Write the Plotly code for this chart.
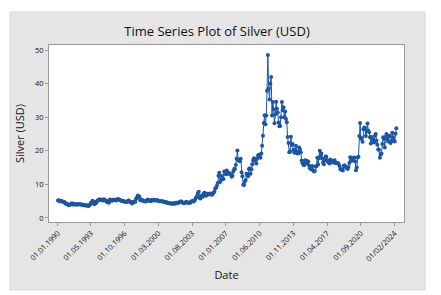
import pandas as pd
import plotly.graph_objects as go

# Monthly silver price (USD), Jan 1990 - Apr 2024
silver_1990s = [
    5.2, 5.3, 5.0, 5.0, 5.1, 4.9, 4.8, 4.8, 4.7, 4.3, 4.2, 4.2,   # 1990
    4.0, 3.8, 3.9, 4.0, 4.1, 4.4, 4.2, 3.9, 4.1, 4.1, 4.1, 3.9,   # 1991
    4.1, 4.1, 4.1, 4.0, 4.0, 4.0, 3.9, 3.8, 3.8, 3.8, 3.7, 3.7,   # 1992
    3.7, 3.6, 3.7, 4.0, 4.5, 4.5, 5.1, 4.9, 4.1, 4.3, 4.4, 4.9,   # 1993
    5.1, 5.3, 5.5, 5.4, 5.5, 5.4, 5.3, 5.2, 5.6, 5.3, 5.2, 4.9,   # 1994
    4.7, 5.0, 4.5, 5.5, 5.3, 5.2, 5.1, 5.4, 5.4, 5.4, 5.3, 5.2,   # 1995
    5.6, 5.6, 5.5, 5.4, 5.3, 5.1, 5.0, 5.1, 5.0, 4.8, 4.8, 4.8,   # 1996
    4.8, 5.1, 5.2, 4.8, 4.8, 4.7, 4.3, 4.5, 4.8, 4.9, 4.8, 5.8,   # 1997
    6.0, 6.7, 6.2, 6.3, 5.3, 5.3, 5.4, 5.1, 5.1, 5.0, 5.0, 4.9,   # 1998
    5.2, 5.5, 5.3, 5.1, 5.1, 5.0, 5.4, 5.3, 5.3, 5.4, 5.2, 5.3,   # 1999
]
silver_2000s = [
    5.2, 5.3, 5.1, 5.0, 5.0, 5.0, 5.0, 4.9, 4.9, 4.8, 4.7, 4.6,   # 2000
    4.7, 4.5, 4.4, 4.4, 4.4, 4.3, 4.2, 4.3, 4.4, 4.3, 4.2, 4.5,   # 2001
    4.5, 4.4, 4.5, 4.6, 4.8, 4.9, 4.9, 4.6, 4.5, 4.4, 4.5, 4.6,   # 2002
    4.8, 4.6, 4.5, 4.5, 4.6, 4.5, 4.9, 5.0, 5.1, 4.9, 5.2, 5.7,   # 2003
    6.2, 6.6, 7.4, 7.8, 6.0, 5.8, 6.5, 6.7, 6.3, 7.2, 7.5, 6.8,   # 2004
    6.6, 7.2, 7.2, 7.0, 7.2, 7.3, 7.0, 6.9, 7.1, 7.6, 7.8, 8.8,   # 2005
    9.0, 9.6, 10.4, 12.6, 13.5, 10.7, 11.3, 12.5, 11.6, 11.6, 13.8, 13.3,  # 2006
    13.0, 14.1, 13.2, 13.4, 13.3, 13.0, 13.0, 12.3, 12.6, 13.8, 14.6, 14.6,  # 2007
    15.8, 17.6, 20.1, 17.1, 17.2, 16.9, 17.6, 13.6, 12.4, 9.9, 9.8, 10.8,  # 2008
    11.3, 13.2, 12.9, 12.4, 14.6, 14.8, 13.2, 14.5, 16.0, 17.1, 17.8, 17.0,  # 2009
]
silver_2010s = [
    17.5, 16.2, 17.6, 18.6, 18.8, 18.5, 17.9, 19.2, 21.5, 24.5, 28.3, 30.6,  # 2010
    27.9, 30.5, 37.9, 48.5, 38.5, 35.3, 40.0, 42.0, 30.5, 34.5, 32.4, 28.2,  # 2011
    30.9, 34.6, 32.5, 31.4, 28.4, 27.3, 27.4, 30.0, 34.5, 32.1, 33.0, 30.0,  # 2012
    31.7, 29.5, 28.5, 24.1, 22.3, 19.6, 19.8, 24.2, 21.7, 22.0, 20.3, 19.5,  # 2013
    19.4, 21.5, 19.8, 19.2, 19.3, 21.0, 20.4, 19.6, 17.1, 16.4, 15.9, 15.7,  # 2014
    17.2, 16.6, 17.0, 16.2, 16.8, 15.6, 14.8, 14.6, 14.6, 15.5, 14.1, 13.8,  # 2015
    14.0, 15.3, 15.4, 17.9, 15.9, 17.8, 20.0, 18.7, 19.2, 17.7, 16.5, 16.0,  # 2016
    17.2, 18.3, 18.2, 17.2, 16.7, 16.5, 16.2, 17.4, 16.9, 16.8, 16.5, 17.0,  # 2017
    17.2, 16.4, 16.3, 16.4, 16.4, 16.1, 15.5, 14.5, 14.5, 14.3, 14.1, 15.5,  # 2018
    15.7, 15.3, 15.0, 14.9, 14.6, 15.2, 16.4, 18.1, 17.0, 17.9, 17.1, 17.8,  # 2019
]
silver_2020s = [
    18.0, 16.8, 14.2, 15.0, 18.0, 18.2, 24.4, 28.3, 23.6, 23.8, 22.7, 26.4,  # 2020
    26.9, 26.8, 24.4, 26.0, 28.1, 26.0, 25.5, 24.0, 22.2, 24.1, 23.2, 23.3,  # 2021
    22.5, 24.5, 25.0, 23.0, 21.8, 20.4, 20.3, 17.9, 19.0, 19.2, 22.0, 24.0,  # 2022
    23.6, 21.0, 24.1, 25.0, 23.6, 22.8, 24.5, 24.4, 22.3, 22.9, 25.4, 24.0,  # 2023
    23.0, 22.8, 25.1, 26.7,                                                # 2024
]

tick_dates = ["1990-01-01", "1993-05-01", "1996-10-01", "2000-03-01", "2003-08-01",
              "2007-01-01", "2010-06-01", "2013-11-01", "2017-04-01", "2020-09-01",
              "2024-02-01"]
tick_labels = ["01.01.1990", "01.05.1993", "01.10.1996", "01.03.2000", "01.08.2003",
               "01.01.2007", "01.06.2010", "01.11.2013", "01.04.2017", "01.09.2020",
               "01/02/2024"]
y_ticks = [0, 10, 20, 30, 40, 50]

silver = silver_1990s + silver_2000s + silver_2010s + silver_2020s
dates = pd.date_range("1990-01-01", periods=len(silver), freq="MS")

blue = "#1b56a4"
FONT = "Open Sans"

fig = go.Figure()
fig.add_trace(go.Scatter(
    x=dates, y=silver, mode="lines+markers",
    line=dict(color=blue, width=1),
    marker=dict(color=blue, size=4, symbol="circle"),
    showlegend=False,
))

# plot geometry in px
W, H = 441, 295
L, R, T, B = 49, 404, 45, 222
pw, ph = R - L, B - T

def px_x(p):
    return (p - L) / pw

def px_y(p):
    return (B - p) / ph

fig.add_shape(type="rect", xref="paper", yref="paper", layer="below",
              x0=px_x(10), x1=px_x(425), y0=px_y(290), y1=px_y(12),
              fillcolor="#e5e5e5", line=dict(color="#d6d6d6", width=1))
fig.add_shape(type="rect", xref="paper", yref="paper", layer="below",
              x0=0, x1=1, y0=0, y1=1,
              fillcolor="white", line=dict(width=0))

fig.update_layout(
    width=W, height=H,
    margin=dict(l=L, r=W - R, t=T, b=H - B, pad=0, autoexpand=False),
    paper_bgcolor="white", plot_bgcolor="white",
    font=dict(family=FONT, color="#222222"),
    title=dict(text="Time Series Plot of Silver (USD)", x=(217 - L) / pw, xref="paper",
               xanchor="center", y=1 - 31 / H, yanchor="middle",
               font=dict(size=13, family=FONT, color="#111111")),
)
fig.update_xaxes(
    type="date", range=["1989-02-03", "2025-01-10"], automargin=False,
    tickvals=tick_dates, ticktext=tick_labels, tickangle=-45,
    tickfont=dict(size=7.5, family=FONT, color="#111111"),
    ticks="outside", ticklen=3, tickcolor="#9a9a9a",
    showgrid=False, zeroline=False,
    showline=True, mirror=True, linecolor="#9a9a9a", linewidth=1,
    title=dict(text="Date", font=dict(size=11, family=FONT, color="#111111"), standoff=8),
)
fig.update_yaxes(
    range=[-1.2, 51.5], tickvals=y_ticks, automargin=False,
    tickfont=dict(size=7.5, family=FONT, color="#111111"),
    ticks="outside", ticklen=3, tickcolor="#9a9a9a",
    showgrid=False, zeroline=False,
    showline=True, mirror=True, linecolor="#9a9a9a", linewidth=1,
    title=dict(text="Silver (USD)", font=dict(size=11, family=FONT, color="#111111"), standoff=8),
)

fig.write_html("out.html", config={"displayModeBar": False},
               post_script="document.body.style.margin='0';")
